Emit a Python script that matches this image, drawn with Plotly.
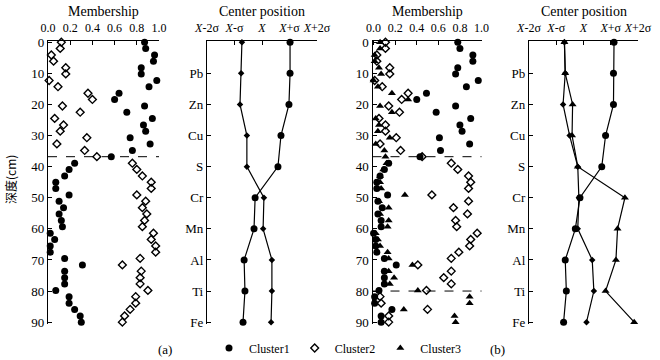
import plotly.graph_objects as go

# sample depths (cm), 45 samples from 0 to 90
depth = [0, 2.0, 4.1, 6.1, 8.2, 10.2, 12.3, 14.3, 16.4, 18.4, 20.5, 22.5, 24.5, 26.6, 28.6,
         30.7, 32.7, 34.8, 36.8, 38.9, 40.9, 43.0, 45.0, 47.0, 49.1, 51.1, 53.2, 55.2, 57.3,
         59.3, 61.4, 63.4, 65.5, 67.5, 69.5, 71.6, 73.6, 75.7, 77.7, 79.8, 81.8, 83.9, 85.9,
         88.0, 90.0]

# (a) two clusters
a_cluster1 = [0.87, 0.88, 0.96, 0.95, 0.84, 0.84, 0.98, 0.91, 0.64, 0.60, 0.87, 0.71, 0.94, 0.86, 0.88,
              0.74, 0.92, 0.76, 0.57, 0.24, 0.19, 0.15, 0.07, 0.07, 0.19, 0.10, 0.14, 0.10, 0.12,
              0.13, 0.02, 0.06, 0.02, 0.02, 0.15, 0.31, 0.15, 0.15, 0.15, 0.07, 0.19, 0.19, 0.24,
              0.29, 0.30]
a_cluster2 = [0.12, 0.11, 0.03, 0.05, 0.16, 0.16, 0.01, 0.09, 0.36, 0.40, 0.13, 0.29, 0.06, 0.14, 0.11,
              0.35, 0.08, 0.33, 0.44, 0.76, 0.80, 0.85, 0.93, 0.93, 0.80, 0.88, 0.85, 0.89, 0.87,
              0.85, 0.95, 0.93, 0.97, 0.97, 0.83, 0.67, 0.84, 0.83, 0.83, 0.90, 0.79, 0.79, 0.74,
              0.69, 0.67]

# (b) three clusters
b_cluster1 = [0.78, 0.80, 0.92, 0.92, 0.78, 0.76, 0.97, 0.86, 0.49, 0.40, 0.76, 0.58, 0.90, 0.80, 0.82,
              0.61, 0.89, 0.62, 0.43, 0.14, 0.10, 0.06, 0.03, 0.03, 0.13, 0.04, 0.08, 0.04, 0.07,
              0.07, 0.00, 0.02, 0.02, 0.03, 0.10, 0.21, 0.10, 0.10, 0.10, 0.05, 0.01, 0.01, 0.17,
              0.07, 0.07]
b_cluster2 = [0.11, 0.11, 0.03, 0.03, 0.15, 0.15, 0.01, 0.08, 0.32, 0.26, 0.14, 0.24, 0.05, 0.11, 0.11,
              0.21, 0.06, 0.25, 0.45, 0.72, 0.78, 0.88, 0.90, 0.88, 0.54, 0.88, 0.74, 0.87, 0.76,
              0.77, 0.96, 0.90, 0.89, 0.79, 0.72, 0.41, 0.72, 0.65, 0.72, 0.49, 0.06, 0.07, 0.50,
              0.14, 0.14]
b_cluster3 = [0.06, 0.06, 0.01, 0.01, 0.05, 0.07, 0.00, 0.04, 0.17, 0.32, 0.06, 0.17, 0.02, 0.05, 0.04,
              0.15, 0.02, 0.10, 0.11, 0.12, 0.09, 0.06, 0.06, 0.07, 0.29, 0.05, 0.14, 0.06, 0.14,
              0.13, 0.02, 0.04, 0.06, 0.13, 0.14, 0.36, 0.14, 0.19, 0.15, 0.41, 0.89, 0.89, 0.28,
              0.75, 0.76]

boundary_a = [36.8]
boundary_b = [36.8, 80]

# center positions, in units of sigma from the mean X
elements = ["", "Pb", "Zn", "Cu", "S", "Cr", "Mn", "Al", "Ti", "Fe"]
element_pos = [0, 10, 20, 30, 40, 50, 60, 70, 80, 90]
ca_cluster1 = [1.02, 1.02, 0.98, 0.69, 0.58, -0.25, -0.29, -0.65, -0.62, -0.69]
ca_cluster2 = [-0.73, -0.76, -0.80, -0.55, -0.55, 0.07, 0.04, 0.36, 0.36, 0.33]
cb_cluster1 = [1.12, 1.10, 1.10, 0.81, 0.67, -0.13, -0.30, -0.67, -0.63, -0.73]
cb_cluster2 = [-0.70, -0.67, -0.75, -0.51, -0.21, -0.17, -0.21, 0.32, 0.38, 0.11]
cb_cluster3 = [-0.70, -0.67, -0.40, -0.42, -0.21, 1.52, 1.25, 1.19, 0.81, 1.86]

sigma_vals = [-2, -1, 0, 1, 2]
sigma_text = ["<i>X</i>-2σ", "<i>X</i>-σ", "<i>X</i>", "<i>X</i>+σ", "<i>X</i>+2σ"]

FONT = "Liberation Serif, Times New Roman, Noto Sans CJK SC, serif"
W, H = 660, 360
TOP, BOTTOM = 41, 324   # plot area rows in pixels
PLOT_H = BOTTOM - TOP

circle = dict(symbol="circle", size=7, color="black")
diamond = dict(symbol="diamond-open", size=6, color="black", line=dict(color="black", width=1.4))
triangle = dict(symbol="triangle-up", size=7, color="black")
small_diamond = dict(symbol="diamond", size=5, color="black")


def dom(a, b):
    # pixel columns -> figure domain
    return [a / W, b / W]


def py(p):
    # pixel row -> paper y
    return (BOTTOM - p) / PLOT_H


fig = go.Figure()

# (a) membership
fig.add_trace(go.Scatter(x=a_cluster1, y=depth, mode="markers", marker=circle,
                         xaxis="x", yaxis="y", showlegend=False, cliponaxis=False))
fig.add_trace(go.Scatter(x=a_cluster2, y=depth, mode="markers", marker=diamond,
                         xaxis="x", yaxis="y", showlegend=False, cliponaxis=False))
# (a) center position
fig.add_trace(go.Scatter(x=ca_cluster1, y=element_pos, mode="lines+markers", marker=circle,
                         line=dict(color="black", width=1.2), xaxis="x2", yaxis="y2",
                         showlegend=False, cliponaxis=False))
fig.add_trace(go.Scatter(x=ca_cluster2, y=element_pos, mode="lines+markers", marker=small_diamond,
                         line=dict(color="black", width=1.2), xaxis="x2", yaxis="y2",
                         showlegend=False, cliponaxis=False))
# (b) membership
fig.add_trace(go.Scatter(x=b_cluster1, y=depth, mode="markers", marker=circle, name="Cluster1",
                         xaxis="x3", yaxis="y3", cliponaxis=False))
fig.add_trace(go.Scatter(x=b_cluster2, y=depth, mode="markers", marker=diamond, name="Cluster2",
                         xaxis="x3", yaxis="y3", cliponaxis=False))
fig.add_trace(go.Scatter(x=b_cluster3, y=depth, mode="markers", marker=triangle, name="Cluster3",
                         xaxis="x3", yaxis="y3", cliponaxis=False))
# (b) center position
for vals, mk in [(cb_cluster1, circle), (cb_cluster2, small_diamond), (cb_cluster3, triangle)]:
    fig.add_trace(go.Scatter(x=vals, y=element_pos, mode="lines+markers", marker=mk,
                             line=dict(color="black", width=1.2), xaxis="x4", yaxis="y4",
                             showlegend=False, cliponaxis=False))

axis_common = dict(showline=True, linecolor="black", linewidth=1.3, ticks="inside",
                   ticklen=4, tickcolor="black", showgrid=False, zeroline=False,
                   automargin=False, tickfont=dict(family=FONT, size=13, color="black"))
yrange = [90.6, -0.4]

xfont = dict(family=FONT, size=12, color="black")
memb_x = dict(axis_common, side="top", range=[0, 1.0], tickvals=[0, 0.2, 0.4, 0.6, 0.8, 1.0],
              tickformat=".1f", tickangle=0, tickfont=xfont, ticklabelstandoff=3)
cent_x = dict(axis_common, side="top", range=[-2, 2], tickvals=sigma_vals, ticktext=sigma_text,
              tickangle=0, tickfont=xfont, ticklabelstandoff=3)
memb_y = dict(axis_common, range=yrange, tickvals=[0, 10, 20, 30, 40, 50, 60, 70, 80, 90])
cent_y = dict(axis_common, range=yrange, tickvals=element_pos[1:], ticktext=elements[1:])

fig.update_layout(
    width=W, height=H,
    margin=dict(l=0, r=0, t=TOP, b=H - BOTTOM, autoexpand=False),
    paper_bgcolor="white", plot_bgcolor="white",
    font=dict(family=FONT, size=13, color="black"),
    xaxis=dict(memb_x, domain=dom(48, 159), anchor="y"),
    yaxis=dict(memb_y, domain=[0, 1], anchor="x"),
    xaxis2=dict(cent_x, domain=dom(207, 317), anchor="y2"),
    yaxis2=dict(cent_y, domain=[0, 1], anchor="x2"),
    xaxis3=dict(memb_x, domain=dom(372.5, 481.5), range=[-0.01, 1.0], anchor="y3"),
    yaxis3=dict(memb_y, domain=[0, 1], anchor="x3"),
    xaxis4=dict(cent_x, domain=dom(529, 638), anchor="y4"),
    yaxis4=dict(cent_y, domain=[0, 1], anchor="x4"),
    legend=dict(orientation="h", x=(231 - 22) / W, xanchor="left", y=py(348),
                yanchor="middle", font=dict(family=FONT, size=12), bgcolor="rgba(0,0,0,0)",
                itemwidth=30, tracegroupgap=0),
)

# dashed boundary lines
for d in boundary_a:
    fig.add_shape(type="line", xref="x domain", yref="y", x0=0, x1=1, y0=d, y1=d,
                  line=dict(color="black", width=1, dash="dash"))
for d in boundary_b:
    fig.add_shape(type="line", xref="x3 domain", yref="y3", x0=0, x1=1, y0=d, y1=d,
                  line=dict(color="black", width=1, dash="dash"))

titles = [("Membership", 104), ("Center position", 262), ("Membership", 427), ("Center position", 584)]
for text, xc in titles:
    fig.add_annotation(text=text, x=xc / W, y=py(12), xref="paper", yref="paper",
                       xanchor="center", yanchor="middle", showarrow=False,
                       font=dict(family=FONT, size=14))

fig.add_annotation(text="深度(cm)", x=10 / W, y=py(180), xref="paper", yref="paper",
                   textangle=-90, xanchor="center", yanchor="middle", showarrow=False,
                   font=dict(family="Noto Sans CJK SC", size=12))
for text, xc in [("(a)", 165), ("(b)", 497)]:
    fig.add_annotation(text=text, x=xc / W, y=py(349), xref="paper", yref="paper",
                       xanchor="center", yanchor="middle", showarrow=False,
                       font=dict(family=FONT, size=13))

# the page body has a default 8px margin; drop it so the figure fills the window
fig.write_html("out.html", config={"displayModeBar": False},
               post_script="document.body.style.margin = '0';")
